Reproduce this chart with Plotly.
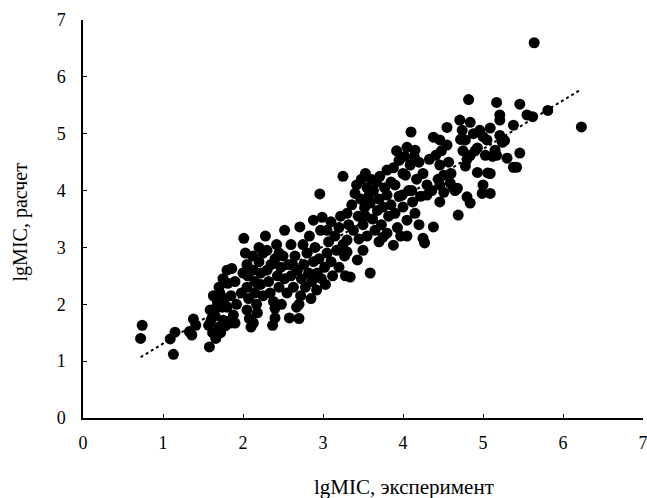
import numpy as np
import plotly.graph_objects as go

exp_x = [
    0.72, 0.74, 1.09, 1.15, 1.13, 1.36, 1.38, 1.41, 1.33,
    1.58, 1.57, 1.59, 1.62, 1.60, 1.65, 1.66, 1.68, 1.70, 1.71, 1.72, 1.74, 1.75, 1.77, 1.78, 1.80, 1.81, 1.80, 1.82, 1.84, 1.86, 1.85, 1.88, 1.90, 1.90, 1.92, 1.70, 1.75, 1.63, 1.67,
    2.01, 2.03, 2.05, 2.06, 2.05, 2.07, 2.05, 2.08, 2.10, 2.12, 2.13, 2.13, 2.15, 2.15, 2.17, 2.18, 2.20, 2.20, 2.22, 2.22, 2.25, 2.25, 2.00, 1.98,
    2.28, 2.30, 2.30, 2.32, 2.34, 2.37, 2.38, 2.40, 2.40, 2.40, 2.42, 2.43, 2.45, 2.47, 2.48, 2.50, 2.52, 2.52, 2.55, 2.57, 2.58, 2.60, 2.60, 2.35, 2.45,
    2.63, 2.65, 2.67, 2.68, 2.70, 2.71, 2.72, 2.73, 2.75, 2.76, 2.78, 2.80, 2.82, 2.83, 2.85, 2.86, 2.88, 2.88, 2.90, 2.92, 2.93, 2.95, 2.96, 2.97, 2.99, 2.98, 2.70, 2.62,
    3.02, 3.03, 3.05, 3.05, 3.07, 3.10, 3.10, 3.12, 3.15, 3.17, 3.20, 3.20, 3.22, 3.25, 3.25, 3.27, 3.28, 3.30, 3.30, 3.30, 3.32, 3.34,
    3.36, 3.38, 3.40, 3.42, 3.43, 3.44, 3.45, 3.47, 3.48, 3.50, 3.50, 3.52, 3.53, 3.55, 3.55, 3.57, 3.59, 3.59, 3.60, 3.62, 3.63, 3.65, 3.67, 3.68, 3.70, 3.70, 3.53,
    3.71, 3.73, 3.75, 3.75, 3.77, 3.80, 3.80, 3.80, 3.82, 3.85, 3.85, 3.88, 3.88, 3.90, 3.90, 3.92, 3.93, 3.95, 3.95, 3.97, 3.99, 4.00, 4.00, 4.02, 4.03, 4.05, 4.05, 4.05,
    4.07, 4.09, 4.10, 4.11, 4.12, 4.14, 4.15, 4.15, 4.17, 4.20, 4.20, 4.22, 4.25, 4.25, 4.27, 4.30, 4.30, 4.33, 4.36, 4.38, 4.38,
    4.41, 4.44, 4.46, 4.46, 4.46, 4.46, 4.48, 4.51, 4.51, 4.55, 4.55, 4.57, 4.59, 4.60, 4.63, 4.65, 4.68, 4.69, 4.71, 4.72, 4.74, 4.75, 4.78, 4.78, 4.80, 4.80,
    4.82, 4.84, 4.84, 4.84, 4.88, 4.90, 4.93, 4.93, 4.96, 4.99, 5.00, 5.00, 5.03, 5.05, 5.06, 5.09, 5.09, 5.09, 5.12, 5.15, 5.17, 5.17, 5.21, 5.21, 5.21, 5.24, 5.27, 5.30,
    5.38, 5.38, 5.42, 5.46, 5.46, 5.55, 5.62, 5.64, 5.81, 6.23,
]
calc_y = [
    1.40, 1.63, 1.39, 1.51, 1.12, 1.46, 1.74, 1.63, 1.52,
    1.25, 1.63, 1.90, 1.50, 1.72, 1.80, 1.40, 2.05, 1.60, 2.20, 1.50, 1.95, 1.72, 2.10, 1.62, 2.60, 2.37, 1.95, 1.70, 1.67, 2.63, 2.15, 1.81, 1.67, 2.40, 2.00, 2.30, 2.45, 2.15, 1.95,
    3.16, 2.90, 2.70, 2.50, 2.30, 2.10, 1.90, 1.75, 1.60, 2.85, 2.60, 1.67, 2.40, 2.20, 2.00, 1.85, 3.00, 2.75, 2.55, 2.35, 2.15, 2.90, 2.55, 2.20,
    3.20, 2.95, 2.60, 2.40, 2.20, 1.63, 2.05, 1.93, 1.76, 2.80, 3.05, 2.50, 2.30, 2.65, 2.00, 2.85, 3.30, 2.45, 2.20, 2.70, 1.76, 2.50, 3.05, 2.70, 2.90,
    2.30, 2.85, 1.95, 2.60, 1.75, 3.36, 2.15, 2.45, 3.05, 2.70, 2.30, 2.90, 2.55, 3.20, 2.10, 2.40, 3.48, 2.75, 3.00, 2.25, 2.55, 2.80, 3.94, 3.30, 3.53, 2.45, 2.00, 2.70,
    2.65, 2.35, 3.30, 2.90, 3.10, 2.75, 3.45, 2.50, 3.20, 2.95, 3.35, 2.65, 3.55, 4.25, 3.05, 2.85, 2.50, 3.13, 2.92, 3.60, 3.40, 2.48,
    3.75, 3.30, 3.95, 4.10, 2.78, 3.55, 3.15, 3.85, 4.20, 3.40, 2.95, 3.70, 4.30, 4.05, 3.20, 3.90, 2.55, 3.78, 4.20, 3.50, 4.00, 3.30, 4.15, 3.65, 3.10, 3.85, 3.55,
    4.25, 3.40, 3.71, 3.18, 4.05, 4.36, 3.92, 3.25, 3.55, 4.15, 3.75, 3.04, 4.40, 4.10, 3.60, 4.70, 3.35, 4.53, 3.90, 3.20, 3.92, 3.71, 4.30, 4.60, 4.27, 3.48, 4.76, 3.20,
    4.00, 4.45, 5.03, 4.00, 3.80, 4.60, 4.71, 3.60, 4.20, 3.40, 4.50, 3.90, 3.16, 4.30, 3.08, 3.92, 4.10, 4.55, 4.00, 4.94, 3.36,
    4.62, 4.20, 4.89, 4.45, 4.10, 3.80, 4.70, 4.27, 3.97, 5.11, 4.80, 4.50, 4.13, 4.30, 4.05, 4.00, 4.04, 3.57, 5.24, 4.90, 5.06, 4.70, 4.43, 4.89, 3.89, 4.55,
    5.60, 5.20, 4.62, 3.78, 5.00, 4.70, 4.32, 4.75, 5.06, 3.95, 4.10, 4.95, 4.62, 4.89, 4.31, 5.10, 4.30, 3.95, 4.60, 4.71, 5.55, 4.62, 4.97, 5.33, 5.24, 4.85, 4.88, 4.57,
    5.15, 4.41, 4.41, 4.66, 5.52, 5.33, 5.30, 6.60, 5.41, 5.12,
]
tick_vals = [0, 1, 2, 3, 4, 5, 6, 7]
x_title = "lgMIC, эксперимент"
y_title = "lgMIC, расчет"

xs = np.array(exp_x)
ys = np.array(calc_y)
slope, intercept = np.polyfit(xs, ys, 1)
trend_x = np.array([xs.min(), xs.max()])
trend_y = slope * trend_x + intercept

font_family = "Liberation Serif"

fig = go.Figure()
fig.add_trace(go.Scatter(
    x=exp_x, y=calc_y, mode="markers",
    marker=dict(color="black", size=11, line=dict(width=0)),
    showlegend=False, hoverinfo="x+y",
))
fig.add_trace(go.Scatter(
    x=trend_x, y=trend_y, mode="lines",
    line=dict(color="black", width=2, dash="dot"),
    showlegend=False, hoverinfo="skip",
))

def make_axis(standoff):
    return dict(
        range=[0, 7], tickvals=tick_vals, showgrid=False, zeroline=False,
        showline=True, linecolor="black", linewidth=1.5,
        ticks="inside", ticklen=4, tickcolor="black", tickwidth=1,
        ticklabelstandoff=standoff, ticklabeloverflow="allow",
        tickfont=dict(family=font_family, size=18, color="black"),
        automargin=False,
    )

# plot area: x 83..643, y 20..418 in a 647x498 page
fig.update_layout(
    width=647, height=498,
    margin=dict(l=83, r=4, t=20, b=80),
    paper_bgcolor="white", plot_bgcolor="white",
    xaxis=make_axis(8),
    yaxis=make_axis(12),
    font=dict(family=font_family, color="black"),
    annotations=[
        dict(text=x_title, xref="paper", yref="paper", x=0.573, y=-0.173,
             xanchor="center", yanchor="middle", showarrow=False,
             font=dict(family=font_family, size=21, color="black")),
        dict(text=y_title, xref="paper", yref="paper", x=-0.112, y=0.492,
             xanchor="center", yanchor="middle", textangle=-90, showarrow=False,
             font=dict(family=font_family, size=20, color="black")),
    ],
)
fig.write_html(
    "out.html",
    config={"displayModeBar": False},
    post_script="document.body.style.margin='0';document.body.style.overflow='hidden';",
)
